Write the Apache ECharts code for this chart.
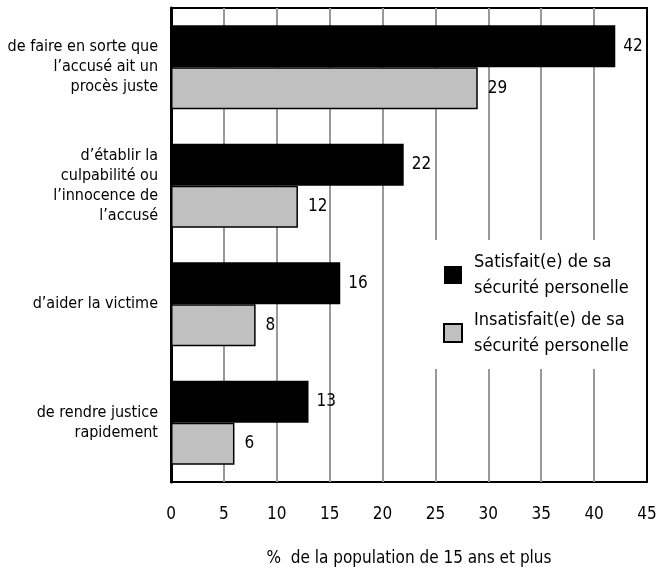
<!DOCTYPE html>
<html>
<head>
<meta charset="utf-8">
<script src="https://cdn.jsdelivr.net/npm/echarts@6/dist/echarts.min.js"></script>
<style>
  html, body { margin: 0; padding: 0; background: #fff; }
  #chart { width: 669px; height: 568px; }
</style>
</head>
<body>
<div id="chart"></div>
<script>
const categories = [
  'de faire en sorte que\nl’accusé ait un\nprocès juste',
  'd’établir la\nculpabilité ou\nl’innocence de\nl’accusé',
  'd’aider la victime',
  'de rendre justice\nrapidement'
]
const seriesNames = ['Satisfait(e) de sa sécurité personelle', 'Insatisfait(e) de sa sécurité personelle']
const satisfied = [42, 22, 16, 13]
const unsatisfied = [29, 12, 8, 6]
const xTicks = { min: 0, max: 45, interval: 5 }
const xName = '%  de la population de 15 ans et plus'

const font = '"Liberation Sans Narrow", "Arial Narrow", "DejaVu Sans Condensed", "Liberation Sans", sans-serif'
const chart = echarts.init(document.getElementById('chart'))

const legendNames = {
  [seriesNames[0]]: 'Satisfait(e) de sa\nsécurité personelle',
  [seriesNames[1]]: 'Insatisfait(e) de sa\nsécurité personelle',
}

chart.setOption({
  animation: false,
  textStyle: { fontFamily: font, color: '#000' },
  grid: {
    left: 171, right: 22, top: 8, bottom: 86,
    outerBoundsMode: 'none',
    show: true, borderColor: '#000', borderWidth: 2,
  },
  // white patch behind the legend, hiding the gridlines but not the frame
  graphic: [{
    type: 'rect', z: 1, silent: true,
    shape: { x: 435, y: 240, width: 210, height: 129 },
    style: { fill: '#fff' },
  }],
  legend: {
    orient: 'vertical',
    left: 435, top: 240,
    padding: [9, 4, 11, 8],
    itemWidth: 18, itemHeight: 18, itemGap: 6,
    icon: 'rect',
    formatter: name => legendNames[name],
    textStyle: { fontSize: 18, lineHeight: 26, color: '#000', fontFamily: font, padding: [0, 0, 0, 7] },
    data: seriesNames,
  },
  xAxis: {
    type: 'value',
    min: xTicks.min, max: xTicks.max, interval: xTicks.interval,
    axisLine: { show: false },
    axisTick: { show: false },
    splitLine: { show: true, showMinLine: false, showMaxLine: false, lineStyle: { color: '#999', width: 2 } },
    axisLabel: { fontSize: 17, color: '#000', margin: 24 },
    name: xName,
    nameLocation: 'middle',
    nameGap: 68,
    nameTextStyle: { fontSize: 17, color: '#000' },
  },
  yAxis: {
    type: 'category',
    inverse: true,
    data: categories,
    axisLine: { show: true, lineStyle: { color: '#000', width: 3 } },
    axisTick: { show: false },
    axisLabel: { fontSize: 16, lineHeight: 20, color: '#000', margin: 13, align: 'right' },
  },
  series: [
    {
      name: seriesNames[0],
      type: 'bar',
      data: satisfied,
      barWidth: 42,
      barGap: '0%',
      itemStyle: { color: '#000' },
      label: { show: true, position: 'right', distance: 8, fontSize: 17, color: '#000' },
    },
    {
      name: seriesNames[1],
      type: 'bar',
      data: unsatisfied,
      barWidth: 42,
      itemStyle: { color: '#c0c0c0', borderColor: '#000', borderWidth: 1.5 },
      label: { show: true, position: 'right', distance: 10, fontSize: 17, color: '#000' },
    },
  ],
})
window.addEventListener('resize', () => chart.resize())
</script>
</body>
</html>
